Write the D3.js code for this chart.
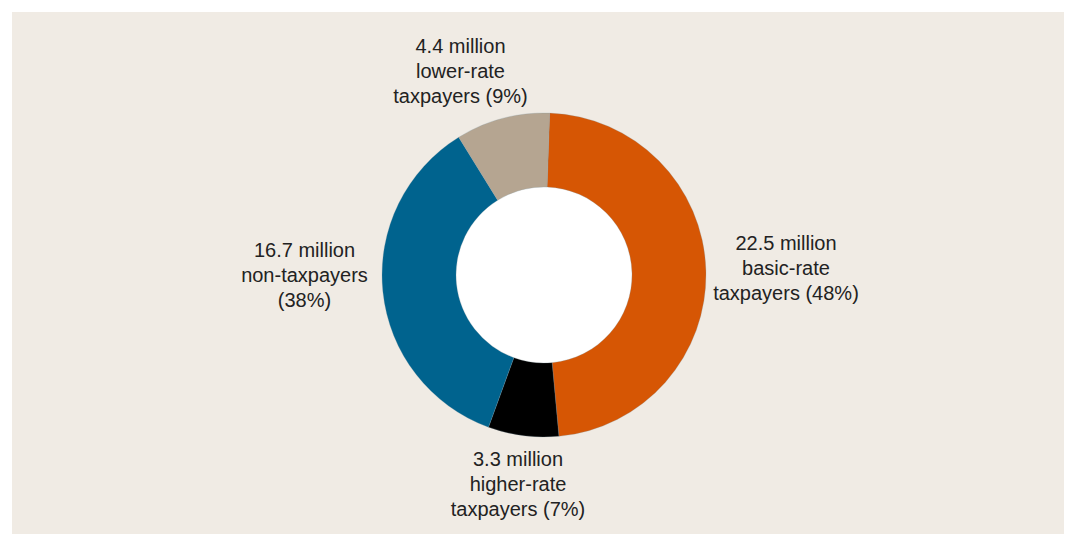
<!DOCTYPE html>
<html>
<head>
<meta charset="utf-8">
<script src="https://cdn.jsdelivr.net/npm/d3@7"></script>
<style>
  html, body { margin: 0; padding: 0; background: #ffffff; }
  svg { display: block; }
  text { font-family: "Liberation Sans", Arial, Helvetica, sans-serif; }
</style>
</head>
<body>
<svg id="chart" width="1069" height="534"></svg>
<script>
// Taxpayer groups, in millions, drawn clockwise from the top
const categories = ["basic-rate", "higher-rate", "non-taxpayers", "lower-rate"];
const values = [22.5, 3.3, 16.7, 4.4];
const shares = ["48%", "7%", "38%", "9%"];
const labelLines = [
  ["22.5 million", "basic-rate", "taxpayers (48%)"],
  ["3.3 million", "higher-rate", "taxpayers (7%)"],
  ["16.7 million", "non-taxpayers", "(38%)"],
  ["4.4 million", "lower-rate", "taxpayers (9%)"]
];
const colors = ["#d65604", "#000000", "#00638e", "#b5a591"];

const W = 1069, H = 534;
const cx = 544, cy = 275;
const outerR = 162, innerR = 88;

const svg = d3.select("#chart");

// panel background
svg.append("rect")
  .attr("x", 12).attr("y", 12)
  .attr("width", 1052).attr("height", 522)
  .attr("fill", "#f0ebe4");

const data = categories.map((c, i) => ({ name: c, value: values[i], share: shares[i], lines: labelLines[i], color: colors[i] }));

const pie = d3.pie()
  .value(d => d.value)
  .sort(null)
  .startAngle(0.035)
  .endAngle(0.035 + 2 * Math.PI);

const arc = d3.arc().innerRadius(innerR).outerRadius(outerR);

const g = svg.append("g").attr("transform", `translate(${cx},${cy})`);

// white hole behind the ring
g.append("circle").attr("r", innerR).attr("fill", "#ffffff");

g.selectAll("path.slice")
  .data(pie(data))
  .join("path")
  .attr("class", "slice")
  .attr("d", arc)
  .attr("fill", d => d.data.color)
  .attr("stroke", "#7d97a3")
  .attr("stroke-width", 0.25);

// label anchors relative to the ring centre (x centre, first baseline)
const labelPos = [
  [242, -25],
  [-26, 191],
  [-239.5, -18],
  [-83.5, -222]
];
const lineH = 25;

const labels = g.selectAll("text.label")
  .data(data)
  .join("text")
  .attr("class", "label")
  .attr("text-anchor", "middle")
  .attr("font-size", "20px")
  .attr("fill", "#222222")
  .attr("transform", (d, i) => `translate(${labelPos[i][0]},${labelPos[i][1]})`);

labels.selectAll("tspan")
  .data(d => d.lines)
  .join("tspan")
  .attr("x", 0)
  .attr("y", (d, i) => i * lineH)
  .text(d => d);
</script>
</body>
</html>
